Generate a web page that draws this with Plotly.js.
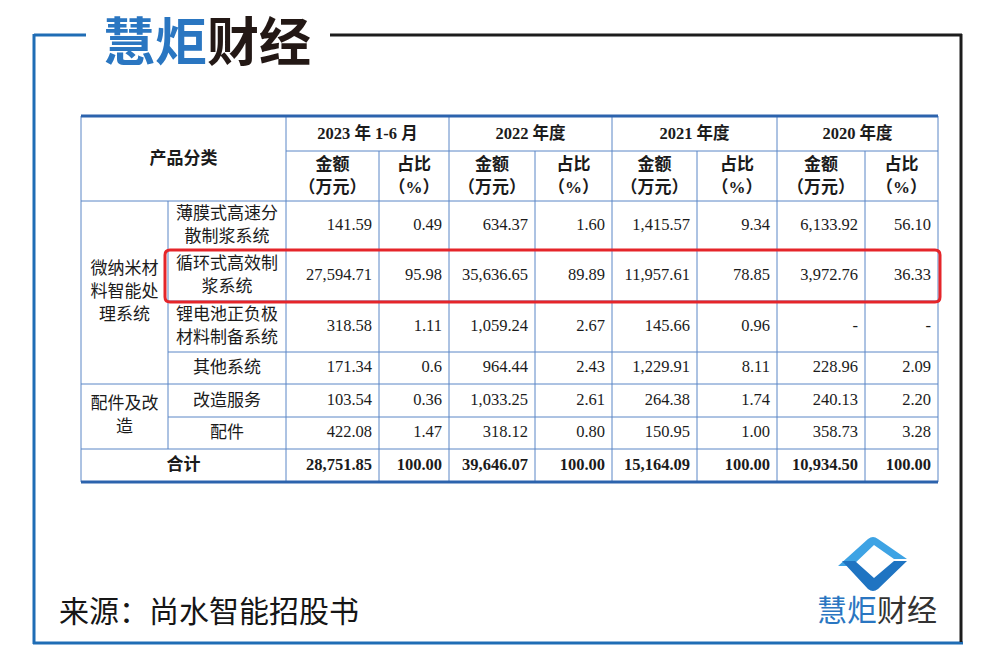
<!DOCTYPE html>
<html>
<head>
<meta charset="utf-8">
<script src="https://cdn.plot.ly/plotly-3.0.1.min.js"></script>
<style>
  body { margin: 0; background: #fff; overflow: hidden; }
  #plot { width: 986px; height: 656px; }
</style>
</head>
<body>
<div id="plot"></div>
<script>
// table content
const periods = ["2023 年 1-6 月", "2022 年度", "2021 年度", "2020 年度"];
const subHeads = ["金额<br>（万元）", "占比<br>（%）"];
const groups = ["微纳米材<br>料智能处<br>理系统", "配件及改<br>造"];
const products = ["薄膜式高速分<br>散制浆系统", "循环式高效制<br>浆系统", "锂电池正负极<br>材料制备系统", "其他系统", "改造服务", "配件"];

const amount2023 = ["141.59", "27,594.71", "318.58", "171.34", "103.54", "422.08"];
const share2023 = ["0.49", "95.98", "1.11", "0.6", "0.36", "1.47"];
const amount2022 = ["634.37", "35,636.65", "1,059.24", "964.44", "1,033.25", "318.12"];
const share2022 = ["1.60", "89.89", "2.67", "2.43", "2.61", "0.80"];
const amount2021 = ["1,415.57", "11,957.61", "145.66", "1,229.91", "264.38", "150.95"];
const share2021 = ["9.34", "78.85", "0.96", "8.11", "1.74", "1.00"];
const amount2020 = ["6,133.92", "3,972.76", "-", "228.96", "240.13", "358.73"];
const share2020 = ["56.10", "36.33", "-", "2.09", "2.20", "3.28"];

const totalLabel = "合计";
const totals = ["28,751.85", "100.00", "39,646.07", "100.00", "15,164.09", "100.00", "10,934.50", "100.00"];

const sourceText = "来源：尚水智能招股书";

// geometry (pixels, axes are 1:1 with the page)
const colX = [81, 168, 286, 379, 449, 535, 612, 697, 777, 865, 938];
const rowY = [201, 250, 301, 352, 384, 417, 449, 482];
const headTop = 116, headMid = 151;

const valueCols = [amount2023, share2023, amount2022, share2022, amount2021, share2021, amount2020, share2020];

const SERIF = "Liberation Serif, Times New Roman, Noto Sans CJK SC, serif";
const INK = "#1b1b1b";
const GRID = "#5a86c6";
const THICK = "#2c63ad";
const LINE_GAP = 23;

let traces = [];
let mid = (a, b) => (a + b) / 2;

// centred text, each <br> line placed on its own with a Song-like line gap
function centred(texts, xs, ys, size, bold) {
    let px = [], py = [], pt = [];
    texts.forEach((t, i) => {
        let lines = t.split("<br>");
        lines.forEach((ln, k) => {
            px.push(xs[i]);
            py.push(ys[i] + (k - (lines.length - 1) / 2) * LINE_GAP);
            pt.push(bold ? "<b>" + ln + "</b>" : ln);
        });
    });
    traces.push({
        x: px, y: py, text: pt, mode: "text", textposition: "middle center",
        textfont: { family: SERIF, size: size, color: INK }
    });
}

// header
centred(periods, periods.map((p, i) => mid(colX[2 + 2 * i], colX[4 + 2 * i])),
    periods.map(() => mid(headTop, headMid) + 1), 16.5, true);
let subX = [], subT = [];
for (let i = 0; i < 8; i++) {
    subX.push(mid(colX[2 + i], colX[3 + i]));
    subT.push(subHeads[i % 2]);
}
centred(subT, subX, subX.map(() => mid(headMid, rowY[0]) + 1), 17, true);
centred(["产品分类"], [mid(colX[0], colX[2])], [160], 17, true);

// row labels
centred(groups, groups.map(() => mid(colX[0], colX[1])),
    [mid(rowY[0], rowY[4]), mid(rowY[4], rowY[6])], 17, false);
centred(products, products.map(() => mid(colX[1], colX[2])),
    products.map((p, i) => mid(rowY[i], rowY[i + 1]) + 1), 17, false);

// values, right aligned in their cells
valueCols.forEach((vals, c) => {
    traces.push({
        x: vals.map(() => colX[3 + c] - 7),
        y: vals.map((v, i) => mid(rowY[i], rowY[i + 1])),
        text: vals, mode: "text", textposition: "middle left",
        textfont: { family: SERIF, size: 16.5, color: INK }
    });
});

// total row
centred([totalLabel], [mid(colX[0], colX[2])], [mid(rowY[6], rowY[7])], 17, true);
traces.push({
    x: totals.map((t, c) => colX[3 + c] - 7),
    y: totals.map(() => mid(rowY[6], rowY[7])),
    text: totals.map(t => "<b>" + t + "</b>"),
    mode: "text", textposition: "middle left",
    textfont: { family: SERIF, size: 16.5, color: INK }
});

// grid lines
let shapes = [];
function seg(x0, y0, x1, y1, color, width) {
    shapes.push({ type: "line", xref: "x", yref: "y", x0: x0, y0: y0, x1: x1, y1: y1, line: { color: color, width: width } });
}
let L = colX[0], R = colX[colX.length - 1], B = rowY[rowY.length - 1];
seg(L, headTop, L, B, GRID, 1);
seg(R, headTop, R, B, GRID, 1);
[2, 4, 6, 8].forEach(i => seg(colX[i], headTop, colX[i], B, GRID, 1));
[3, 5, 7, 9].forEach(i => seg(colX[i], headMid, colX[i], B, GRID, 1));
seg(colX[1], rowY[0], colX[1], rowY[6], GRID, 1);
seg(colX[2], headMid, R, headMid, GRID, 1);
seg(L, rowY[0], R, rowY[0], GRID, 1);
[1, 2, 3, 5].forEach(i => seg(colX[1], rowY[i], R, rowY[i], GRID, 1));
[4, 6].forEach(i => seg(L, rowY[i], R, rowY[i], GRID, 1));
seg(L, headTop, R, headTop, THICK, 3);
seg(L, B, R, B, THICK, 3);

// red highlight box around the 循环式 row
shapes.push({
    type: "path", xref: "x", yref: "y",
    path: "M 170 250 L 935 250 Q 940 250 940 255 L 940 297 Q 940 302 935 302 L 170 302 Q 165 302 165 297 L 165 255 Q 165 250 170 250 Z",
    line: { color: "#e5252a", width: 3 }
});

// page frame
seg(34, 35, 86, 35, "#1f6db5", 3);
seg(34, 34, 34, 644, "#1f6db5", 3);
seg(33, 643, 963, 643, "#1f6db5", 3);
seg(330, 35, 962, 35, "#1c1c1c", 3);
seg(961, 34, 961, 642, "#1c1c1c", 3);

// bottom-right logo mark
shapes.push({
    type: "path", xref: "x", yref: "y",
    path: "M 838 566 L 868 539 Q 873 535 878 539 L 907 559 L 894 559 L 874 545 L 852 566 Z",
    fillcolor: "#3ea3e4", line: { width: 0 }
});
shapes.push({
    type: "path", xref: "x", yref: "y",
    path: "M 842 561 L 855 561 L 874 578 L 894 561 L 907 561 L 878 589 Q 873 593 868 589 Z",
    fillcolor: "#1f74c2", line: { width: 0 }
});

let annotations = [
    {
        x: 207, y: 38, xref: "x", yref: "y", showarrow: false,
        text: "<b><span style='color:#2a76c1'>慧炬</span><span style='color:#231815'>财经</span></b>",
        font: { family: "Noto Sans CJK SC", size: 52 }
    },
    {
        x: 57, y: 609, xref: "x", yref: "y", showarrow: false, xanchor: "left",
        text: sourceText, font: { family: "Noto Sans CJK SC", size: 30, color: "#161616" }
    },
    {
        x: 877, y: 608, xref: "x", yref: "y", showarrow: false,
        text: "<span style='color:#2a76c1'>慧炬</span><span style='color:#333'>财经</span>",
        font: { family: "Noto Sans CJK SC", size: 30 }
    }
];

let layout = {
    width: 986, height: 656,
    margin: { l: 0, r: 0, t: 0, b: 0 },
    paper_bgcolor: "#fff", plot_bgcolor: "#fff",
    showlegend: false,
    xaxis: { range: [0, 986], visible: false, fixedrange: true },
    yaxis: { range: [656, 0], visible: false, fixedrange: true },
    shapes: shapes,
    annotations: annotations
};

Plotly.newPlot("plot", traces, layout, { displayModeBar: false, staticPlot: true });
</script>
</body>
</html>
